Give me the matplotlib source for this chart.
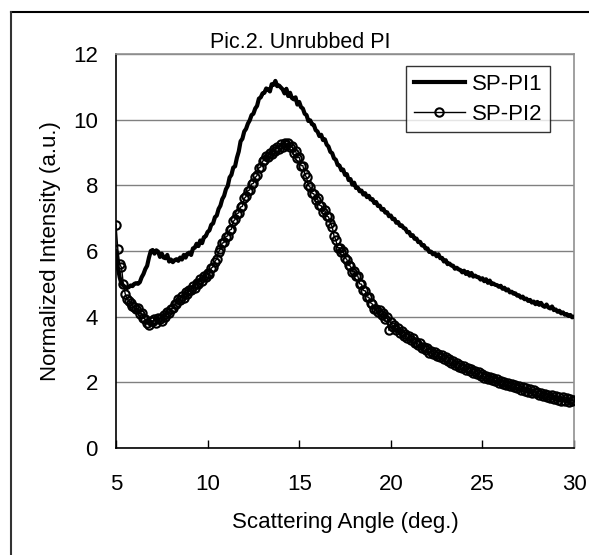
import numpy as np
import matplotlib
matplotlib.use("Agg")
import matplotlib.pyplot as plt
from matplotlib.lines import Line2D

# Scattering angle grid (deg.), 5.0 .. 30.0 in 0.1 steps
angle = [round(5.0 + 0.1 * i, 1) for i in range(251)]

sp_pi1 = [
    6.00, 5.50, 5.20, 5.00, 4.95, 4.90, 4.87, 4.90, 4.95, 4.93,
    5.00, 5.02, 5.00, 5.05, 5.20, 5.30, 5.45, 5.55, 5.80, 6.00,
    6.03, 5.92, 6.02, 5.98, 5.82, 5.92, 5.80, 5.78, 5.88, 5.68,
    5.74, 5.66, 5.72, 5.75, 5.70, 5.80, 5.74, 5.88, 5.80, 5.92,
    5.95, 5.88, 6.08, 6.10, 6.22, 6.15, 6.32, 6.24, 6.42, 6.45,
    6.58, 6.63, 6.80, 6.84, 7.03, 7.08, 7.28, 7.38, 7.58, 7.68,
    7.88, 7.98, 8.24, 8.32, 8.54, 8.58, 8.84, 9.03, 9.34, 9.42,
    9.64, 9.72, 9.88, 9.98, 10.14, 10.18, 10.34, 10.42, 10.64, 10.68,
    10.80, 10.82, 10.95, 10.92, 10.86, 11.08, 11.06, 11.18, 11.02, 11.04,
    10.98, 10.92, 10.80, 10.94, 10.72, 10.82, 10.66, 10.62, 10.68, 10.46,
    10.54, 10.38, 10.34, 10.18, 10.14, 9.96, 9.98, 9.86, 9.84, 9.68,
    9.64, 9.50, 9.54, 9.38, 9.40, 9.24, 9.18, 9.02, 8.98, 8.82,
    8.78, 8.62, 8.60, 8.46, 8.48, 8.32, 8.34, 8.16, 8.19, 8.02,
    8.08, 7.92, 7.93, 7.82, 7.84, 7.72, 7.76, 7.64, 7.68, 7.57,
    7.58, 7.46, 7.49, 7.37, 7.38, 7.26, 7.28, 7.17, 7.18, 7.06,
    7.08, 6.97, 6.98, 6.86, 6.88, 6.77, 6.78, 6.70, 6.68, 6.57,
    6.58, 6.46, 6.48, 6.37, 6.38, 6.27, 6.28, 6.17, 6.18, 6.07,
    6.08, 5.97, 5.98, 5.90, 5.93, 5.84, 5.90, 5.78, 5.79, 5.68,
    5.72, 5.60, 5.62, 5.56, 5.55, 5.46, 5.49, 5.44, 5.42, 5.35,
    5.40, 5.30, 5.36, 5.25, 5.33, 5.22, 5.25, 5.21, 5.20, 5.13,
    5.17, 5.08, 5.14, 5.03, 5.10, 4.99, 5.01, 4.97, 4.96, 4.91,
    4.94, 4.85, 4.88, 4.80, 4.83, 4.74, 4.76, 4.70, 4.71, 4.64,
    4.65, 4.58, 4.61, 4.53, 4.55, 4.48, 4.51, 4.43, 4.46, 4.38,
    4.45, 4.36, 4.42, 4.33, 4.30, 4.37, 4.28, 4.25, 4.31, 4.20,
    4.22, 4.15, 4.18, 4.10, 4.13, 4.06, 4.08, 4.02, 4.05, 3.98,
    4.00,
]

sp_pi2 = [
    6.80, 6.05, 5.60, 5.50, 5.00, 4.70, 4.55, 4.48, 4.42, 4.32,
    4.30, 4.22, 4.25, 4.08, 4.10, 3.96, 3.92, 3.80, 3.76, 3.88,
    3.86, 3.92, 3.82, 3.96, 3.92, 3.86, 4.04, 4.00, 4.14, 4.10,
    4.24, 4.26, 4.38, 4.40, 4.54, 4.50, 4.64, 4.58, 4.74, 4.70,
    4.82, 4.80, 4.94, 4.88, 5.04, 5.00, 5.14, 5.08, 5.24, 5.20,
    5.34, 5.30, 5.48, 5.52, 5.68, 5.76, 5.98, 6.06, 6.24, 6.26,
    6.44, 6.46, 6.64, 6.66, 6.90, 6.96, 7.14, 7.16, 7.34, 7.36,
    7.60, 7.66, 7.84, 7.86, 8.04, 8.06, 8.24, 8.30, 8.54, 8.56,
    8.74, 8.76, 8.90, 8.86, 9.00, 8.96, 9.10, 9.06, 9.18, 9.12,
    9.26, 9.18, 9.30, 9.24, 9.30, 9.16, 9.20, 9.00, 9.06, 8.84,
    8.86, 8.60, 8.60, 8.34, 8.24, 8.00, 7.94, 7.76, 7.74, 7.56,
    7.60, 7.40, 7.38, 7.20, 7.24, 7.06, 7.04, 6.86, 6.74, 6.46,
    6.34, 6.10, 6.10, 5.96, 5.99, 5.80, 5.74, 5.56, 5.54, 5.36,
    5.40, 5.24, 5.24, 5.00, 4.99, 4.80, 4.79, 4.60, 4.59, 4.42,
    4.38, 4.22, 4.24, 4.14, 4.20, 4.06, 4.10, 3.94, 3.98, 3.58,
    3.84, 3.70, 3.74, 3.60, 3.66, 3.50, 3.55, 3.42, 3.46, 3.36,
    3.40, 3.28, 3.34, 3.20, 3.24, 3.14, 3.19, 3.06, 3.09, 2.98,
    3.04, 2.90, 2.96, 2.86, 2.92, 2.80, 2.86, 2.76, 2.82, 2.70,
    2.76, 2.66, 2.72, 2.60, 2.64, 2.54, 2.59, 2.48, 2.54, 2.44,
    2.49, 2.38, 2.45, 2.34, 2.40, 2.28, 2.34, 2.24, 2.30, 2.18,
    2.26, 2.14, 2.20, 2.10, 2.17, 2.06, 2.12, 2.03, 2.10, 1.99,
    2.05, 1.94, 2.01, 1.92, 1.98, 1.88, 1.95, 1.85, 1.92, 1.82,
    1.88, 1.78, 1.85, 1.75, 1.82, 1.72, 1.79, 1.69, 1.76, 1.66,
    1.72, 1.62, 1.68, 1.59, 1.65, 1.55, 1.62, 1.52, 1.60, 1.50,
    1.57, 1.47, 1.56, 1.44, 1.55, 1.42, 1.52, 1.40, 1.50, 1.43,
    1.45,
]

x_ticks = [5, 10, 15, 20, 25, 30]
y_ticks = [0, 2, 4, 6, 8, 10, 12]
series_names = ["SP-PI1", "SP-PI2"]

plt.rcParams['font.family'] = ['Liberation Sans', 'DejaVu Sans']

W, H = 589, 555
fig = plt.figure(figsize=(W / 100, H / 100), dpi=100)
fig.patch.set_facecolor("white")

ax = fig.add_axes([116 / W, (H - 448) / H, 458 / W, 394 / H])

ax.plot(angle, sp_pi1, color="black", lw=3.0, label=series_names[0], zorder=3)
ax.plot(angle, sp_pi2, color="black", lw=1.0, marker="o", markersize=6.0,
        markerfacecolor="none", markeredgecolor="black", markeredgewidth=1.5,
        label=series_names[1], zorder=3)

ax.set_xlim(5, 30)
ax.set_ylim(0, 12)
ax.set_xticks(x_ticks)
ax.set_yticks(y_ticks)
ax.tick_params(axis="x", direction="in", length=6, width=1, pad=19, labelsize=16)
ax.tick_params(axis="y", direction="in", length=0, width=1, pad=13, labelsize=16)

ax.yaxis.grid(True, color="#808080", lw=1)
ax.set_axisbelow(True)

for s in ["left", "bottom"]:
    ax.spines[s].set_color("black")
    ax.spines[s].set_linewidth(1.2)
for s in ["top", "right"]:
    ax.spines[s].set_color("#909090")
    ax.spines[s].set_linewidth(1.2)

ax.set_xlabel("Scattering Angle (deg.)", fontsize=16, labelpad=12)
ax.set_ylabel("Normalized Intensity (a.u.)", fontsize=16, labelpad=9)

fig.text(300 / W, 1 - 42 / H, "Pic.2. Unrubbed PI", ha="center", va="center", fontsize=15.5)

leg = ax.legend(loc="upper right", bbox_to_anchor=((550 - 116) / 458, (448 - 66) / 394),
                borderaxespad=0, fontsize=16, frameon=True, fancybox=False,
                handlelength=2.3, numpoints=1, borderpad=0.35, labelspacing=0.4,
                handletextpad=0.3)
leg.get_frame().set_edgecolor("black")
leg.get_frame().set_linewidth(1.0)

# figure border (top and left edges)
fig.add_artist(Line2D([11 / W, 1.0], [1 - 12 / H, 1 - 12 / H], color="black", lw=1.5,
                      transform=fig.transFigure))
fig.add_artist(Line2D([11 / W, 11 / W], [0, 1 - 12 / H], color="#333333", lw=1.5,
                      transform=fig.transFigure))

fig.savefig("out.png", dpi=100)
